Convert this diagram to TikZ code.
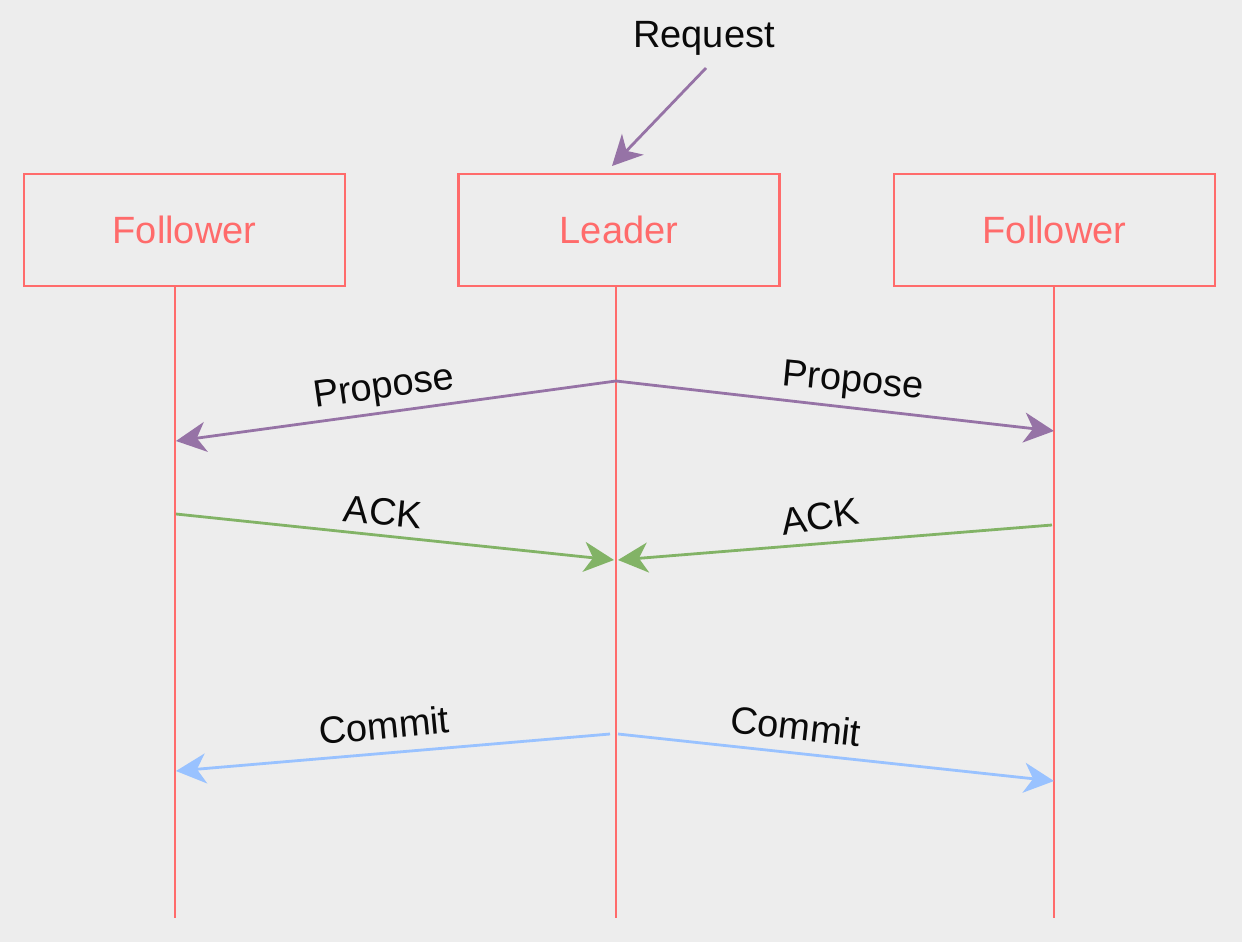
\documentclass[tikz,border=0pt]{standalone}
\usepackage{fontspec}
\setmainfont{Liberation Sans}
\usetikzlibrary{arrows.meta}
\definecolor{bg}{HTML}{EDEDED}
\definecolor{boxred}{HTML}{FF6B6B}
\definecolor{purp}{HTML}{9673A6}
\definecolor{grn}{HTML}{82B366}
\definecolor{blu}{HTML}{99C2FF}
\definecolor{txt}{HTML}{0A0A0A}
\tikzset{
  actor/.style={draw=boxred, line width=2.8pt, minimum width=321pt, minimum height=112pt,
    text=boxred, font=\fontsize{38}{42}\selectfont, inner sep=0pt},
  life/.style={draw=boxred, line width=2.8pt},
  msg/.style={line width=2.8pt, -{Stealth[length=30pt, width=30pt, inset=9pt]}},
  lbl/.style={text=txt, font=\fontsize{38}{42}\selectfont, inner sep=0pt}
}
\begin{document}
\begin{tikzpicture}[x=1pt, y=-1pt]
\fill[bg] (0,0) rectangle (1242,942);
\useasboundingbox (0,0) rectangle (1242,942);

\node[actor] (f1) at (184.5,230) {Follower};
\node[actor] (ld) at (619,230) {Leader};
\node[actor] (f2) at (1054.5,230) {Follower};

% lifelines
\coordinate (l1t) at (175,287); \coordinate (l1b) at (175,918);
\coordinate (l2t) at (616,287); \coordinate (l2b) at (616,918);
\coordinate (l3t) at (1054,287); \coordinate (l3b) at (1054,918);
\draw[life] (l1t) -- (l1b);
\draw[life] (l2t) -- (l2b);
\draw[life] (l3t) -- (l3b);

% request
\node[lbl] (req) at (704,38) {Request};
\coordinate (rqs) at (706,68);
\coordinate (rqe) at (612,166);
\draw[msg, draw=purp, fill=purp] (rqs) -- (rqe);

% propose
\coordinate (p0) at (616,381);
\coordinate (p1) at (176,441);
\coordinate (p2) at (1054,431);
\draw[msg, draw=purp, fill=purp] (p0) -- (p1);
\draw[msg, draw=purp, fill=purp] (p0) -- (p2);
\node[lbl, rotate=8] (pl1) at (384,389) {Propose};
\node[lbl, rotate=-5.5] (pl2) at (853,383) {Propose};

% ack
\coordinate (a1) at (176,514);
\coordinate (a2) at (1052,525);
\coordinate (a1e) at (614,560);
\coordinate (a2e) at (618,560);
\draw[msg, draw=grn, fill=grn] (a1) -- (a1e);
\draw[msg, draw=grn, fill=grn] (a2) -- (a2e);
\node[lbl, rotate=-5.5] (al1) at (383,512) {ACK};
\node[lbl, rotate=8.5] (al2) at (820,517) {ACK};

% commit
\coordinate (c1s) at (610,734);
\coordinate (c2s) at (618,734);
\coordinate (c1) at (176,771);
\coordinate (c2) at (1054,781);
\draw[msg, draw=blu, fill=blu] (c1s) -- (c1);
\draw[msg, draw=blu, fill=blu] (c2s) -- (c2);
\node[lbl, rotate=5.5] (cl1) at (384,725) {Commit};
\node[lbl, rotate=-6.5] (cl2) at (796,726) {Commit};
\end{tikzpicture}
\end{document}
